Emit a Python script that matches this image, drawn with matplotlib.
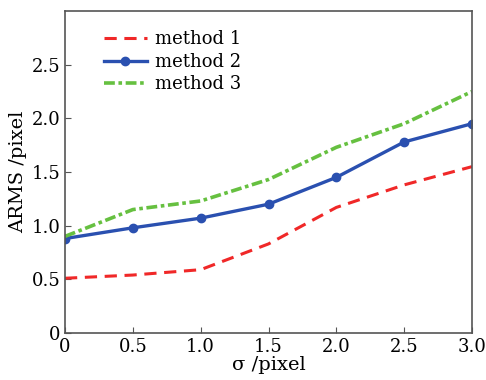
import matplotlib
matplotlib.use("Agg")
import matplotlib.pyplot as plt

sigma = [0, 0.5, 1.0, 1.5, 2.0, 2.5, 3.0]
method1 = [0.51, 0.54, 0.59, 0.83, 1.17, 1.38, 1.55]
method2 = [0.88, 0.98, 1.07, 1.20, 1.45, 1.78, 1.95]
method3 = [0.90, 1.15, 1.23, 1.43, 1.73, 1.95, 2.25]
xticks = [0, 0.5, 1.0, 1.5, 2.0, 2.5, 3.0]
xticklabels = ["0", "0.5", "1.0", "1.5", "2.0", "2.5", "3.0"]
yticks = [0, 0.5, 1.0, 1.5, 2.0, 2.5]
yticklabels = ["0", "0.5", "1.0", "1.5", "2.0", "2.5"]

plt.rcParams['font.family'] = ['DejaVu Serif']
fig = plt.figure(figsize=(4.86, 3.8), dpi=100)
ax = fig.add_axes([65/486, 1-333/380, (472-65)/486, (333-11)/380])

ax.plot(sigma, method1, color='#f02828', lw=2.2, ls=(0, (4, 2.5)), label='method 1')
ax.plot(sigma, method2, color='#2a50b0', lw=2.4, marker='o', ms=6, label='method 2')
ax.plot(sigma, method3, color='#66c040', lw=2.6, ls=(0, (3, 1, 1, 1)), label='method 3')

ax.set_xlim(0, 3.0)
ax.set_ylim(0, 3.0)
ax.set_xticks(xticks)
ax.set_xticklabels(xticklabels)
ax.set_yticks(yticks)
ax.set_yticklabels(yticklabels)
ax.tick_params(direction='in', labelsize=13, length=4, color='#555555')
for s in ax.spines.values():
    s.set_color('#555555')
    s.set_linewidth(1.2)
ax.set_xlabel('σ /pixel', fontsize=14, labelpad=0)
ax.set_ylabel('ARMS /pixel', fontsize=14, labelpad=3)
ax.legend(loc='upper left', frameon=False, fontsize=13, bbox_to_anchor=(0.055, 0.99),
          handlelength=2.4, labelspacing=0.25, handletextpad=0.45)
fig.savefig('out.png', dpi=100)
